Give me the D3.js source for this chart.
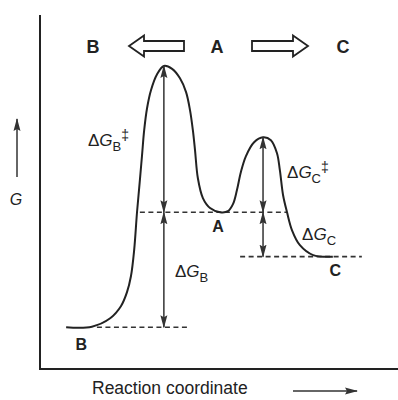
<!DOCTYPE html>
<html>
<head>
<meta charset="utf-8">
<script src="https://cdn.jsdelivr.net/npm/d3@7"></script>
<style>
  body { margin: 0; background: #fff; }
  text { font-family: "Liberation Sans", Arial, sans-serif; fill: #222; }
</style>
</head>
<body>
<svg id="chart"></svg>
<script>
// free energy levels (B = 0, arbitrary units)
const levelNames = ['B', 'A', 'C'];
const levelG = [0, 44, 27];
const tsNames = ['TS_B', 'TS_C'];
const tsG = [100, 72.7];
const tsX = [3.46, 6.23];

// reaction profile (reaction coordinate, G)
const profileX = [0.73, 1.45, 1.96, 2.26, 2.43, 2.54, 2.63, 2.71, 2.79, 2.85, 2.91, 2.99, 3.10, 3.27, 3.46, 3.69, 3.91, 4.08, 4.19, 4.27, 4.33, 4.41, 4.55, 4.75, 5.03, 5.25, 5.39, 5.50, 5.61, 5.75, 5.98, 6.23, 6.45, 6.62, 6.70, 6.79, 6.90, 7.04, 7.26, 7.63, 8.18];
const profileG = [0, 0.2, 3.4, 8.0, 13.4, 19.5, 29.5, 44.0, 56.3, 65.8, 75.4, 83.8, 90.7, 96.8, 100, 98.9, 95.3, 90.0, 83.1, 75.4, 67.8, 57.0, 49.4, 45.6, 44.0, 44.4, 47.1, 52.4, 59.3, 65.4, 70.8, 72.7, 71.6, 66.6, 60.1, 50.5, 44.0, 37.1, 31.4, 27.6, 27.0];

// dashed level lines [from, to] along reaction coordinate
const dashFrom = [1.59, 2.79, 5.59];
const dashTo = [4.11, 6.90, 8.99];

const width = 398, height = 400;

const svg = d3.select('#chart')
  .attr('width', width)
  .attr('height', height);

const x = d3.scaleLinear().domain([0, 10]).range([40, 398]);
const y = d3.scaleLinear().domain([-16, 119.5]).range([369, 15]);

// arrow heads
const defs = svg.append('defs');
defs.append('marker')
  .attr('id', 'head')
  .attr('viewBox', '0 0 13 8')
  .attr('refX', 12)
  .attr('refY', 4)
  .attr('markerWidth', 13)
  .attr('markerHeight', 8)
  .attr('markerUnits', 'userSpaceOnUse')
  .attr('orient', 'auto-start-reverse')
  .append('path')
  .attr('d', 'M0,0.5 L13,4 L0,7.5 L2,4 Z')
  .attr('fill', '#333');

// axes (just two lines, no ticks)
svg.append('line')
  .attr('x1', x(0)).attr('x2', x(0))
  .attr('y1', y(119.5)).attr('y2', y(-16))
  .attr('stroke', '#222').attr('stroke-width', 2);
svg.append('line')
  .attr('x1', x(0) - 1).attr('x2', x(10))
  .attr('y1', y(-16)).attr('y2', y(-16))
  .attr('stroke', '#222').attr('stroke-width', 2);

// dashed levels
svg.selectAll('line.level')
  .data(levelG)
  .enter()
  .append('line')
  .attr('class', 'level')
  .attr('x1', (d, i) => x(dashFrom[i]))
  .attr('x2', (d, i) => x(dashTo[i]))
  .attr('y1', d => y(d))
  .attr('y2', d => y(d))
  .attr('stroke', '#333')
  .attr('stroke-width', 1.6)
  .attr('stroke-dasharray', '5,3.5');

// energy profile
const line = d3.line()
  .x(d => x(d[0]))
  .y(d => y(d[1]))
  .curve(d3.curveCatmullRom.alpha(0.5));

svg.append('path')
  .datum(profileX.map((v, i) => [v, profileG[i]]))
  .attr('d', line)
  .attr('fill', 'none')
  .attr('stroke', '#222')
  .attr('stroke-width', 2);

// double-headed arrows for the barriers and free energy differences
const arrows = [
  [tsX[0], levelG[1], tsG[0]],
  [tsX[0], levelG[1], levelG[0]],
  [tsX[1], levelG[1], tsG[1]],
  [tsX[1], levelG[1], levelG[2]]
];
svg.selectAll('line.dg')
  .data(arrows)
  .enter()
  .append('line')
  .attr('class', 'dg')
  .attr('x1', d => x(d[0]))
  .attr('x2', d => x(d[0]))
  .attr('y1', d => y(d[1]))
  .attr('y2', d => y(d[2]))
  .attr('stroke', '#333')
  .attr('stroke-width', 1.5)
  .attr('marker-start', 'url(#head)')
  .attr('marker-end', 'url(#head)');

// delta G labels
function dgLabel(px, py, sub, dagger) {
  let t = svg.append('text')
    .attr('x', px).attr('y', py)
    .style('font-size', '17px');
  t.append('tspan').text('\u0394');
  t.append('tspan').text('G').style('font-style', 'italic');
  t.append('tspan').text(sub).attr('dy', 5).style('font-size', '13px');
  if (dagger) {
    t.append('tspan').text('\u2021').attr('dy', -11).style('font-size', '14px');
  }
}
dgLabel(x(1.34), y(69.3), 'B', true);
dgLabel(x(6.90), y(57.3), 'C', true);
dgLabel(x(7.32), y(33.3), 'C', false);
dgLabel(x(3.77), y(19.1), 'B', false);

// species labels at the wells
const wellLabelX = [1.15, 4.97, 8.25];
const wellLabelG = [-8.8, 36.5, 19.5];
svg.selectAll('text.well')
  .data(levelNames)
  .enter()
  .append('text')
  .attr('class', 'well')
  .attr('x', (d, i) => x(wellLabelX[i]))
  .attr('y', (d, i) => y(wellLabelG[i]))
  .attr('text-anchor', 'middle')
  .style('font-size', '16px')
  .style('font-weight', 'bold')
  .text(d => d);

// top legend: B <= A => C
const topY = 53;
const topNames = ['B', 'A', 'C'];
const topX = [93, 217, 343];
svg.selectAll('text.top')
  .data(topNames)
  .enter()
  .append('text')
  .attr('class', 'top')
  .attr('x', (d, i) => topX[i])
  .attr('y', topY)
  .attr('text-anchor', 'middle')
  .style('font-size', '18px')
  .style('font-weight', 'bold')
  .text(d => d);

function blockArrow(x0, x1, dir) {
  // x0 = tail end, x1 = tip
  const cy = 46, bh = 5, hh = 10.5, hl = 15 * dir;
  const p = d3.path();
  p.moveTo(x0, cy - bh);
  p.lineTo(x1 - hl, cy - bh);
  p.lineTo(x1 - hl, cy - hh);
  p.lineTo(x1, cy);
  p.lineTo(x1 - hl, cy + hh);
  p.lineTo(x1 - hl, cy + bh);
  p.lineTo(x0, cy + bh);
  p.closePath();
  svg.append('path')
    .attr('d', p.toString())
    .attr('fill', 'none')
    .attr('stroke', '#222')
    .attr('stroke-width', 1.8)
    .attr('stroke-linejoin', 'miter');
}
blockArrow(184, 129, -1);
blockArrow(252, 308, 1);

// y axis label
svg.append('line')
  .attr('x1', 17).attr('x2', 17)
  .attr('y1', 177).attr('y2', 119)
  .attr('stroke', '#333')
  .attr('stroke-width', 1.5)
  .attr('marker-end', 'url(#head)');
svg.append('text')
  .attr('x', 16).attr('y', 205)
  .attr('text-anchor', 'middle')
  .style('font-size', '16px')
  .style('font-style', 'italic')
  .text('G');

// x axis label
svg.append('text')
  .attr('x', 92).attr('y', 394)
  .style('font-size', '17.5px')
  .text('Reaction coordinate');
svg.append('line')
  .attr('x1', 293).attr('x2', 357)
  .attr('y1', 391).attr('y2', 391)
  .attr('stroke', '#333')
  .attr('stroke-width', 1.5)
  .attr('marker-end', 'url(#head)');
</script>
</body>
</html>
